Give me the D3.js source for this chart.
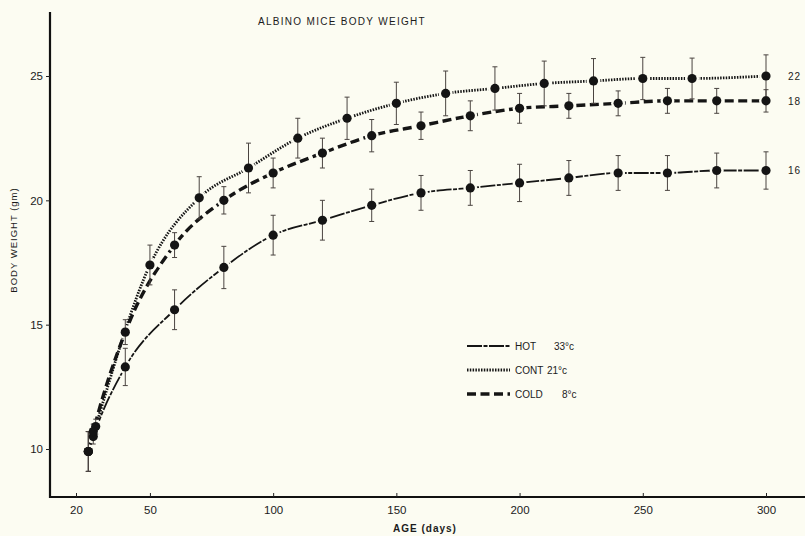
<!DOCTYPE html>
<html>
<head>
<meta charset="utf-8">
<script src="https://cdn.jsdelivr.net/npm/d3@7"></script>
<style>
  body { margin: 0; background: #fcfcf2; }
  svg { display: block; }
  text { font-family: "Liberation Sans", Arial, sans-serif; fill: #1b1b1b; }
</style>
</head>
<body>
<svg id="chart" width="805" height="536"></svg>
<script>
// values (age in days, body weight in gm, error bar half-length)
var hotDays   = [25, 27, 40, 60, 80, 100, 120, 140, 160, 180, 200, 220, 240, 260, 280, 300];
var hotWeight = [9.9, 10.5, 13.3, 15.6, 17.3, 18.6, 19.2, 19.8, 20.3, 20.5, 20.7, 20.9, 21.1, 21.1, 21.2, 21.2];
var hotErr    = [0.8, 0.3, 0.75, 0.8, 0.85, 0.8, 0.8, 0.65, 0.7, 0.7, 0.75, 0.7, 0.7, 0.7, 0.7, 0.75];

var contDays   = [25, 28, 50, 70, 90, 110, 130, 150, 170, 190, 210, 230, 250, 270, 300];
var contWeight = [9.9, 10.9, 17.4, 20.1, 21.3, 22.5, 23.3, 23.9, 24.3, 24.5, 24.7, 24.8, 24.9, 24.9, 25.0];
var contErr    = [0.8, 0.3, 0.8, 0.85, 1.0, 0.8, 0.85, 0.85, 0.9, 0.87, 0.9, 0.9, 0.85, 0.82, 0.85];

var coldDays   = [25, 27, 40, 60, 80, 100, 120, 140, 160, 180, 200, 220, 240, 260, 280, 300];
var coldWeight = [9.9, 10.7, 14.7, 18.2, 20.0, 21.1, 21.9, 22.6, 23.0, 23.4, 23.7, 23.8, 23.9, 24.0, 24.0, 24.0];
var coldErr    = [0.8, 0.3, 0.5, 0.5, 0.55, 0.6, 0.6, 0.65, 0.55, 0.6, 0.6, 0.5, 0.5, 0.5, 0.5, 0.45];

var seriesNames = ["HOT", "CONT", "COLD"];
var seriesTemps = ["33°c", "21°c", "8°c"];
var seriesN     = ["16", "22", "18"];

var xTicks = [20, 50, 100, 150, 200, 250, 300];
var yTicks = [10, 15, 20, 25];

var svg = d3.select("#chart");

var x = d3.scaleLinear().domain([20, 300]).range([76, 766]);
var y = d3.scaleLinear().domain([10, 25]).range([449, 76]);

function toPoints(days, w, e) {
  return days.map(function (d, i) { return { d: d, w: w[i], e: e[i] }; });
}

var series = [
  { name: "HOT",  pts: toPoints(hotDays, hotWeight, hotErr),    dash: "15,1.5,4,1.5", width: 1.8 },
  { name: "CONT", pts: toPoints(contDays, contWeight, contErr), dash: "1.5,1.3",  width: 2.8 },
  { name: "COLD", pts: toPoints(coldDays, coldWeight, coldErr), dash: "9,4.5",    width: 3.4 }
];

// axes lines
svg.append("line").attr("x1", 50).attr("x2", 50).attr("y1", 12).attr("y2", 498)
  .attr("stroke", "#111").attr("stroke-width", 2.2);
svg.append("line").attr("x1", 49).attr("x2", 805).attr("y1", 497).attr("y2", 497)
  .attr("stroke", "#111").attr("stroke-width", 2.2);

var yAxis = svg.append("g")
  .attr("transform", "translate(50,0)")
  .call(d3.axisLeft(y).tickValues(yTicks).tickSize(4).tickPadding(3));
yAxis.select(".domain").remove();
yAxis.selectAll("text").style("font-size", "11.5px").attr("fill", "#1b1b1b");
yAxis.selectAll("line").attr("stroke", "#222");

var xAxis = svg.append("g")
  .attr("transform", "translate(0,497)")
  .call(d3.axisBottom(x).tickValues(xTicks).tickSizeInner(-4).tickSizeOuter(0).tickPadding(9));
xAxis.select(".domain").remove();
xAxis.selectAll("text").style("font-size", "11.5px").attr("fill", "#1b1b1b");
xAxis.selectAll("line").attr("stroke", "#222");

// titles
svg.append("text").attr("x", 342).attr("y", 25).attr("text-anchor", "middle")
  .style("font-size", "10px").style("letter-spacing", "1.3px")
  .text("ALBINO MICE BODY WEIGHT");

svg.append("text").attr("transform", "translate(17,240) rotate(-90)")
  .attr("text-anchor", "middle")
  .style("font-size", "9.5px").style("letter-spacing", "1px")
  .text("BODY WEIGHT (gm)");

svg.append("text").attr("x", 425).attr("y", 532).attr("text-anchor", "middle")
  .style("font-size", "10px").style("font-weight", "bold").style("letter-spacing", "1px")
  .text("AGE (days)");

// curves
var line = d3.line()
  .x(function (p) { return x(p.d) })
  .y(function (p) { return y(p.w) })
  .curve(d3.curveMonotoneX);

var g = svg.append("g");
series.forEach(function (s) {
  g.append("path")
    .attr("d", line(s.pts))
    .attr("fill", "none")
    .attr("stroke", "#151515")
    .attr("stroke-width", s.width)
    .attr("stroke-dasharray", s.dash);
});

// little gaps round the dots
series.forEach(function (s) {
  g.selectAll(null).data(s.pts).enter().append("circle")
    .attr("cx", function (p) { return x(p.d) })
    .attr("cy", function (p) { return y(p.w) })
    .attr("r", 7)
    .attr("fill", "#fcfcf2");
});

// error bars
series.forEach(function (s) {
  var eb = g.selectAll(null).data(s.pts).enter().append("g");
  eb.append("line")
    .attr("x1", function (p) { return x(p.d) }).attr("x2", function (p) { return x(p.d) })
    .attr("y1", function (p) { return y(p.w - p.e) }).attr("y2", function (p) { return y(p.w + p.e) })
    .attr("stroke", "#4a4440").attr("stroke-width", 1);
  [-1, 1].forEach(function (k) {
    eb.append("line")
      .attr("x1", function (p) { return x(p.d) - 2.5 }).attr("x2", function (p) { return x(p.d) + 2.5 })
      .attr("y1", function (p) { return y(p.w + k * p.e) }).attr("y2", function (p) { return y(p.w + k * p.e) })
      .attr("stroke", "#4a4440").attr("stroke-width", 1);
  });
});

// dots
series.forEach(function (s) {
  g.selectAll(null).data(s.pts).enter().append("circle")
    .attr("cx", function (p) { return x(p.d) })
    .attr("cy", function (p) { return y(p.w) })
    .attr("r", 4.6)
    .attr("fill", "#141414");
});

// group sizes at the right end
series.forEach(function (s, i) {
  var last = s.pts[s.pts.length - 1];
  svg.append("text")
    .attr("x", 788).attr("y", y(last.w) + 4)
    .style("font-size", "10px").style("letter-spacing", "1px")
    .text(seriesN[i]);
});

// legend
var legY = [346, 370, 394];
series.forEach(function (s, i) {
  svg.append("line")
    .attr("x1", 467).attr("x2", 510).attr("y1", legY[i]).attr("y2", legY[i])
    .attr("stroke", "#151515").attr("stroke-width", s.width)
    .attr("stroke-dasharray", s.dash);
  svg.append("text").attr("x", 515).attr("y", legY[i] + 4)
    .style("font-size", "10px").text(seriesNames[i]);
  svg.append("text").attr("x", [554, 547, 562][i]).attr("y", legY[i] + 4)
    .style("font-size", "10px").text(seriesTemps[i]);
});
</script>
</body>
</html>
